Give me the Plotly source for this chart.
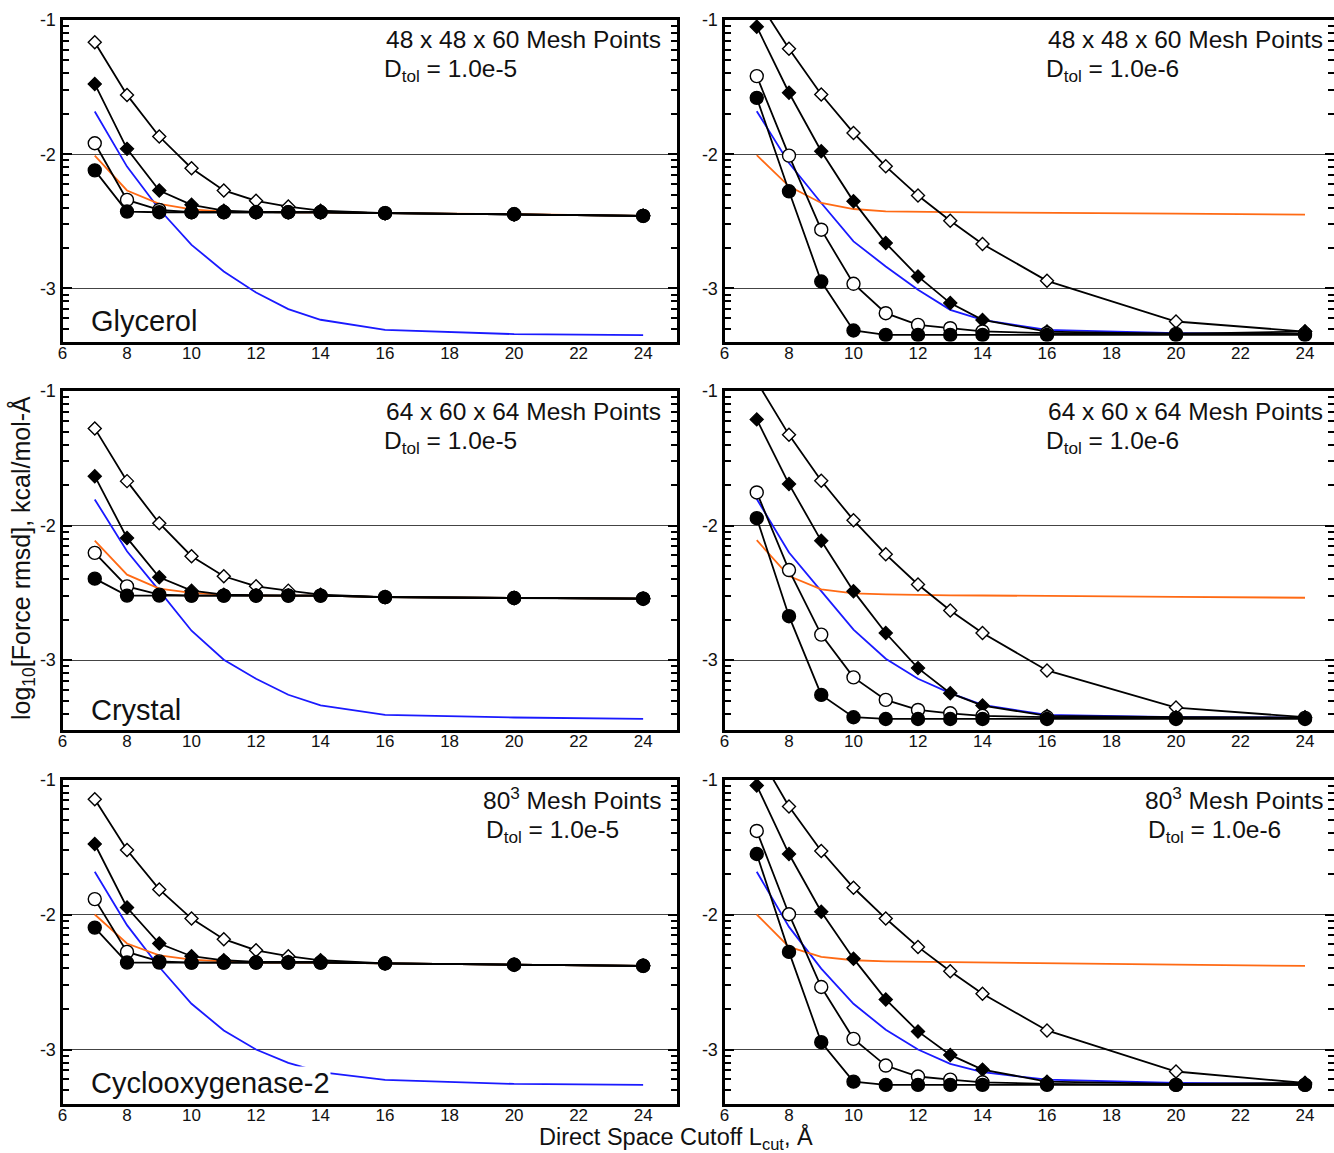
import math
import plotly.graph_objects as go

# ---------------- data (log10 of force rmsd) ----------------
x_cut = [7, 8, 9, 10, 11, 12, 13, 14, 16, 20, 24]

# Glycerol, 48x48x60, Dtol 1e-5
gly5_open_diamond = [-1.166, -1.558, -1.868, -2.104, -2.27, -2.347, -2.39, -2.42, -2.439, -2.447, -2.459]
gly5_fill_diamond = [-1.476, -1.96, -2.27, -2.377, -2.42, -2.43, -2.432, -2.432, -2.439, -2.447, -2.459]
gly5_open_circle = [-1.918, -2.34, -2.415, -2.432, -2.432, -2.432, -2.432, -2.432, -2.439, -2.447, -2.459]
gly5_fill_circle = [-2.12, -2.427, -2.432, -2.432, -2.432, -2.432, -2.432, -2.432, -2.439, -2.447, -2.459]
gly5_blue = [-1.682, -2.092, -2.41, -2.675, -2.873, -3.03, -3.154, -3.233, -3.308, -3.34, -3.348]
gly5_orange = [-2.01, -2.27, -2.37, -2.41, -2.427, -2.432, -2.432, -2.432, -2.439, -2.447, -2.459]

# Glycerol, 48x48x60, Dtol 1e-6
gly6_open_diamond = [-0.84, -1.214, -1.555, -1.841, -2.09, -2.308, -2.495, -2.669, -2.943, -3.246, -3.321]
gly6_fill_diamond = [-1.05, -1.542, -1.978, -2.351, -2.662, -2.91, -3.109, -3.234, -3.321, -3.338, -3.321]
gly6_open_circle = [-1.418, -2.01, -2.562, -2.965, -3.184, -3.271, -3.296, -3.32, -3.333, -3.338, -3.338]
gly6_fill_circle = [-1.58, -2.276, -2.948, -3.313, -3.346, -3.346, -3.346, -3.346, -3.346, -3.346, -3.346]
gly6_blue = [-1.679, -2.065, -2.363, -2.649, -2.836, -3.01, -3.159, -3.234, -3.308, -3.333, -3.34]
gly6_orange = [-2.007, -2.239, -2.363, -2.408, -2.425, -2.43, -2.431, -2.433, -2.438, -2.443, -2.45]

# Crystal, 64x60x64, Dtol 1e-5
cry5_open_diamond = [-1.278, -1.67, -1.983, -2.228, -2.377, -2.452, -2.484, -2.514, -2.532, -2.539, -2.544]
cry5_fill_diamond = [-1.633, -2.092, -2.385, -2.484, -2.514, -2.52, -2.521, -2.521, -2.532, -2.539, -2.544]
cry5_open_circle = [-2.203, -2.452, -2.514, -2.521, -2.521, -2.521, -2.521, -2.521, -2.532, -2.539, -2.544]
cry5_fill_circle = [-2.395, -2.521, -2.521, -2.521, -2.521, -2.521, -2.521, -2.521, -2.532, -2.539, -2.544]
cry5_blue = [-1.806, -2.191, -2.484, -2.782, -2.998, -3.139, -3.258, -3.337, -3.407, -3.427, -3.437]
cry5_orange = [-2.112, -2.365, -2.469, -2.501, -2.514, -2.521, -2.521, -2.521, -2.532, -2.539, -2.544]

# Crystal, 64x60x64, Dtol 1e-6
cry6_open_diamond = [-0.93, -1.326, -1.667, -1.96, -2.214, -2.438, -2.632, -2.799, -3.077, -3.353, -3.425]
cry6_fill_diamond = [-1.211, -1.692, -2.114, -2.488, -2.799, -3.06, -3.246, -3.338, -3.415, -3.425, -3.428]
cry6_open_circle = [-1.754, -2.331, -2.811, -3.129, -3.296, -3.371, -3.396, -3.415, -3.425, -3.43, -3.43]
cry6_fill_circle = [-1.945, -2.674, -3.259, -3.425, -3.438, -3.438, -3.438, -3.438, -3.438, -3.438, -3.438]
cry6_blue = [-1.803, -2.201, -2.488, -2.774, -2.99, -3.139, -3.246, -3.333, -3.408, -3.425, -3.428]
cry6_orange = [-2.109, -2.376, -2.475, -2.505, -2.512, -2.517, -2.519, -2.52, -2.525, -2.53, -2.537]

# Cyclooxygenase-2, 80^3, Dtol 1e-5
cox5_open_diamond = [-1.146, -1.522, -1.814, -2.03, -2.183, -2.265, -2.309, -2.339, -2.362, -2.372, -2.38]
cox5_fill_diamond = [-1.478, -1.948, -2.215, -2.309, -2.339, -2.351, -2.352, -2.352, -2.362, -2.372, -2.38]
cox5_open_circle = [-1.886, -2.277, -2.347, -2.356, -2.356, -2.356, -2.356, -2.356, -2.362, -2.372, -2.38]
cox5_fill_circle = [-2.097, -2.356, -2.356, -2.356, -2.356, -2.356, -2.356, -2.356, -2.362, -2.372, -2.38]
cox5_blue = [-1.683, -2.079, -2.389, -2.661, -2.859, -3.0, -3.099, -3.168, -3.225, -3.255, -3.262]
cox5_orange = [-2.0, -2.215, -2.302, -2.334, -2.347, -2.356, -2.356, -2.356, -2.362, -2.372, -2.38]

# Cyclooxygenase-2, 80^3, Dtol 1e-6
cox6_open_diamond = [-0.79, -1.2, -1.53, -1.802, -2.03, -2.24, -2.421, -2.587, -2.859, -3.163, -3.248]
cox6_fill_diamond = [-1.045, -1.552, -1.98, -2.327, -2.629, -2.866, -3.04, -3.149, -3.238, -3.255, -3.248]
cox6_open_circle = [-1.381, -1.998, -2.537, -2.921, -3.119, -3.2, -3.223, -3.243, -3.255, -3.262, -3.262]
cox6_fill_circle = [-1.552, -2.277, -2.946, -3.238, -3.262, -3.262, -3.262, -3.262, -3.262, -3.262, -3.262]
cox6_blue = [-1.683, -2.092, -2.401, -2.661, -2.854, -3.0, -3.106, -3.168, -3.223, -3.248, -3.255]
cox6_orange = [-2.0, -2.24, -2.314, -2.339, -2.347, -2.35, -2.354, -2.356, -2.359, -2.371, -2.381]

x_tick_vals = [6, 8, 10, 12, 14, 16, 18, 20, 22, 24]
y_tick_vals = [-1, -2, -3]
y_tick_text = ["-1", "-2", "-3"]

panel_labels = ["Glycerol", "", "Crystal", "", "Cyclooxygenase-2", ""]
mesh_labels = ["48 x 48 x 60 Mesh Points", "48 x 48 x 60 Mesh Points",
               "64 x 60 x 64 Mesh Points", "64 x 60 x 64 Mesh Points",
               "80<sup>3</sup> Mesh Points", "80<sup>3</sup> Mesh Points"]
dtol_labels = ["D<sub>tol</sub> = 1.0e-5", "D<sub>tol</sub> = 1.0e-6"] * 3

panel_series = [
    (gly5_blue, gly5_orange, gly5_open_diamond, gly5_fill_diamond, gly5_open_circle, gly5_fill_circle),
    (gly6_blue, gly6_orange, gly6_open_diamond, gly6_fill_diamond, gly6_open_circle, gly6_fill_circle),
    (cry5_blue, cry5_orange, cry5_open_diamond, cry5_fill_diamond, cry5_open_circle, cry5_fill_circle),
    (cry6_blue, cry6_orange, cry6_open_diamond, cry6_fill_diamond, cry6_open_circle, cry6_fill_circle),
    (cox5_blue, cox5_orange, cox5_open_diamond, cox5_fill_diamond, cox5_open_circle, cox5_fill_circle),
    (cox6_blue, cox6_orange, cox6_open_diamond, cox6_fill_diamond, cox6_open_circle, cox6_fill_circle),
]

# ---------------- layout geometry ----------------
W, H = 1334, 1153
FONT = "Liberation Sans, Arial, sans-serif"
x_domains = [[62.5 / W, 677 / W], [724.5 / W, 1.0]]
x_ranges = [[6, 25.05], [6, 6 + (W - 724.5) / 32.25]]
y_domains = [[1 - 341.5 / H, 1 - 20 / H], [1 - 730 / H, 1 - 391 / H], [1 - 1103.5 / H, 1 - 779.5 / H]]
y_ranges = [[-3.395, -1], [-3.52, -1], [-3.40, -1]]

# text placement (data coordinates per row)
mesh_x_right = 24.58
dtol_x_left = [15.93, 15.93, 19.1]
text_split_y = [-1.253, -1.26, -1.264]   # boundary between the two text lines
label_x = 6.85
label_y = [-3.241, -3.368, -3.249]

minor_vals = [math.log10(k * 10.0 ** (-n)) for n in (2, 3, 4) for k in range(2, 10)]

fig = go.Figure()
layout = dict(
    width=W, height=H, margin=dict(l=0, r=0, t=0, b=0, autoexpand=False),
    paper_bgcolor="white", plot_bgcolor="white", showlegend=False,
    font=dict(family=FONT, color="black"),
)
annotations = []

for i, series in enumerate(panel_series):
    row, col = divmod(i, 2)
    n = i + 1
    xa = "x" if n == 1 else f"x{n}"
    ya = "y" if n == 1 else f"y{n}"
    blue, orange, od, fd, oc, fc = series

    fig.add_trace(go.Scatter(x=x_cut, y=blue, mode="lines", xaxis=xa, yaxis=ya,
                             line=dict(color="#1a1aff", width=1.8)))
    fig.add_trace(go.Scatter(x=x_cut, y=orange, mode="lines", xaxis=xa, yaxis=ya,
                             line=dict(color="#ff6a14", width=1.8)))
    for ys, sym, fill, size in [(od, "diamond", "white", 10), (fd, "diamond", "black", 10),
                                (oc, "circle", "white", 13), (fc, "circle", "black", 13)]:
        fig.add_trace(go.Scatter(x=x_cut, y=ys, mode="lines+markers", xaxis=xa, yaxis=ya,
                                 line=dict(color="black", width=1.8),
                                 marker=dict(symbol=sym, size=size, color=fill,
                                             line=dict(color="black", width=1.4))))

    xkey = "xaxis" if n == 1 else f"xaxis{n}"
    ykey = "yaxis" if n == 1 else f"yaxis{n}"
    layout[xkey] = dict(
        domain=x_domains[col], range=x_ranges[col], anchor=ya, automargin=False,
        tickvals=x_tick_vals, ticks="", showgrid=False, zeroline=False,
        showline=True, linewidth=3, linecolor="black", mirror=True,
        ticklabelstandoff=-6,
        tickfont=dict(size=17, family=FONT, color="#111"),
    )
    layout[ykey] = dict(
        domain=y_domains[row], range=y_ranges[row], anchor=xa, automargin=False,
        tickvals=y_tick_vals, ticktext=y_tick_text, ticks="inside", ticklen=9,
        tickwidth=2, tickcolor="black",
        showgrid=True, gridcolor="#444", gridwidth=1, zeroline=False,
        showline=True, linewidth=3, linecolor="black", mirror="allticks",
        tickfont=dict(size=18, family=FONT, color="#111"),
        minor=dict(tickvals=minor_vals, ticks="inside", ticklen=6, tickwidth=2,
                   tickcolor="black", showgrid=False),
    )

    annotations.append(dict(
        x=mesh_x_right, y=text_split_y[row], xref=xa, yref=ya, xanchor="right", yanchor="bottom",
        showarrow=False, text=mesh_labels[i], borderpad=0,
        font=dict(size=24.5, family=FONT, color="#111"),
    ))
    annotations.append(dict(
        x=dtol_x_left[row], y=text_split_y[row], xref=xa, yref=ya, xanchor="left", yanchor="top",
        showarrow=False, text=dtol_labels[i], borderpad=0,
        font=dict(size=24.5, family=FONT, color="#111"),
    ))
    if panel_labels[i]:
        annotations.append(dict(
            x=label_x, y=label_y[row], xref=xa, yref=ya, xanchor="left", yanchor="middle",
            showarrow=False, text=panel_labels[i], bgcolor="white", borderpad=0,
            font=dict(size=29, family=FONT, color="#111"),
        ))

annotations.append(dict(
    x=22 / W, y=1 - 558 / H, xref="paper", yref="paper", textangle=-90,
    xanchor="center", yanchor="middle", showarrow=False,
    text="log<sub>10</sub>[Force rmsd], kcal/mol-Å",
    font=dict(size=25, family=FONT, color="#111"),
))
annotations.append(dict(
    x=676 / W, y=1 - 1137.5 / H, xref="paper", yref="paper",
    xanchor="center", yanchor="middle", showarrow=False, borderpad=0,
    text="Direct Space Cutoff L<sub>cut</sub>, Å",
    font=dict(size=23.5, family=FONT, color="#111"),
))
layout["annotations"] = annotations
fig.update_layout(**layout)
fig.write_html("out.html")
